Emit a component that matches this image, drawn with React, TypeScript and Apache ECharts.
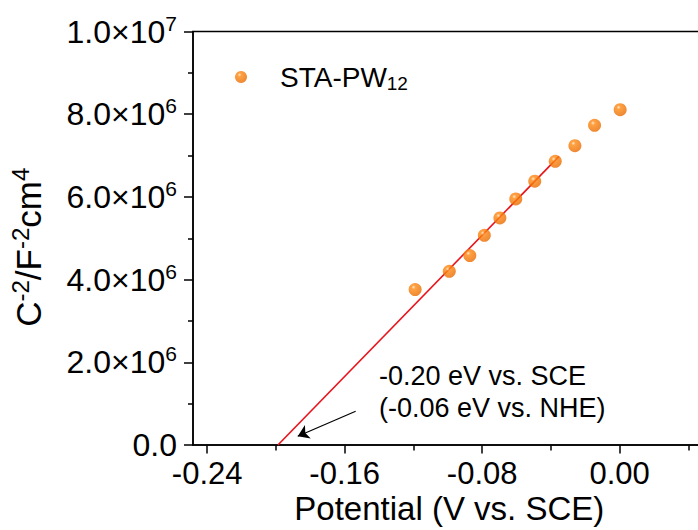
import React, { useEffect, useRef } from "react";
import * as echarts from "echarts";

// Mott–Schottky data
const potentials = [-0.12, -0.1, -0.088, -0.0795, -0.0704, -0.0611, -0.05, -0.038, -0.0265, -0.015, 0.0];
const capacitance = [3.76e6, 4.2e6, 4.58e6, 5.07e6, 5.49e6, 5.95e6, 6.38e6, 6.86e6, 7.24e6, 7.73e6, 8.11e6];
// linear fit endpoints
const fitX = [-0.2003, -0.0358];
const fitY = [0, 6.98e6];
// axis ranges and ticks
const xRange = [-0.25, 0.05];
const xMajorRange = [-0.24, 0.0]; // labelled ticks -0.24 … 0.00
const xMinorRange = [-0.2, 0.04]; // minor ticks -0.20 … 0.04
const xInterval = 0.08;
const yRange = [0, 1e7];
const yInterval = 2e6;
// annotation arrow (data coords) and text
const arrowFrom = [-0.1548, 0.817e6];
const arrowTo = [-0.1887, 0.213e6];
const annotationLines = ["-0.20 eV vs. SCE", "(-0.06 eV vs. NHE)"];
const seriesName = "STA-PW12";

const FONT = '"Liberation Sans", Arial, Helvetica, sans-serif';

// plot frame geometry (px)
const W = 720;
const H = 530;
const LEFT = 190;
const TOP = 31.5;
const BOTTOM = 84.5;
const PLOT_W = 515.6;
const pxPerUnit = PLOT_W / (xRange[1] - xRange[0]);
const xToPx = (v: number) => LEFT + (v - xRange[0]) * pxPerUnit;

function yLabel(v: number): string {
  if (v === 0) return "0.0";
  const e = Math.floor(Math.log10(v) + 1e-9);
  const m = v / Math.pow(10, e);
  return `${m.toFixed(1)}×10{sup|${e}}`;
}

export default function App() {
  const ref = useRef<HTMLDivElement>(null);
  useEffect(() => {
    if (!ref.current) return;
    const chart = echarts.init(ref.current, undefined, { renderer: "svg" });
    const ball = {
      type: "radial",
      x: 0.38,
      y: 0.32,
      r: 0.7,
      colorStops: [
        { offset: 0, color: "#ffe6c4" },
        { offset: 0.22, color: "#ff8a14" },
        { offset: 1, color: "#e86a00" },
      ],
    };
    const tickLine = { color: "#000", width: 1.5 };
    const subGrid = (lo: number, hi: number) => ({
      left: xToPx(lo),
      right: W - xToPx(hi),
      top: TOP,
      bottom: BOTTOM,
      show: false,
    });
    chart.setOption({
      animation: false,
      backgroundColor: "#fff",
      textStyle: { fontFamily: FONT, color: "#000" },
      grid: [
        {
          left: LEFT,
          top: TOP,
          right: W - LEFT - PLOT_W,
          bottom: BOTTOM,
          show: true,
          borderColor: "#000",
          borderWidth: 1.5,
        },
        subGrid(xMajorRange[0], xMajorRange[1]),
        subGrid(xMinorRange[0], xMinorRange[1]),
      ],
      legend: {
        show: true,
        data: [seriesName],
        left: 230,
        top: 58,
        itemWidth: 68,
        itemHeight: 12,
        icon: "circle",
        formatter: () => "{a|STA-PW}{sub|12}",
        textStyle: {
          fontFamily: FONT,
          color: "#000",
          fontSize: 28,
          rich: {
            a: { fontSize: 28, fontFamily: FONT, color: "#000" },
            sub: { fontSize: 19, fontFamily: FONT, color: "#000", padding: [13, 0, 0, 0] },
          },
        },
      },
      xAxis: [
        {
          type: "value",
          gridIndex: 0,
          min: xRange[0],
          max: xRange[1],
          position: "bottom",
          name: "Potential (V vs. SCE)",
          nameLocation: "middle",
          nameGap: 47,
          nameTextStyle: { fontSize: 33, fontFamily: FONT, color: "#000" },
          axisLine: { show: true, onZero: false, lineStyle: tickLine },
          axisTick: { show: false },
          axisLabel: { show: false },
          splitLine: { show: false },
        },
        {
          type: "value",
          gridIndex: 1,
          min: xMajorRange[0],
          max: xMajorRange[1],
          interval: xInterval,
          position: "bottom",
          axisLine: { show: false, onZero: false },
          axisTick: { show: true, inside: false, length: 8, lineStyle: tickLine },
          axisLabel: {
            show: true,
            margin: 12,
            fontSize: 31,
            fontFamily: FONT,
            color: "#000",
            formatter: (v: number) => v.toFixed(2),
          },
          splitLine: { show: false },
        },
        {
          type: "value",
          gridIndex: 2,
          min: xMinorRange[0],
          max: xMinorRange[1],
          interval: xInterval,
          position: "bottom",
          axisLine: { show: false, onZero: false },
          axisTick: { show: true, inside: false, length: 5, lineStyle: tickLine },
          axisLabel: { show: false },
          splitLine: { show: false },
        },
      ],
      yAxis: [
        {
          type: "value",
          gridIndex: 0,
          min: yRange[0],
          max: yRange[1],
          interval: yInterval,
          name: "C{sup|-2}/F{sup|-2}cm{sup|4}",
          nameLocation: "middle",
          nameGap: 144,
          nameTextStyle: {
            fontSize: 35,
            fontFamily: FONT,
            color: "#000",
            padding: [0, 18, 0, 0],
            rich: {
              sup: { fontSize: 24, fontFamily: FONT, color: "#000", padding: [0, 0, 17, 0] },
            },
          },
          axisLine: { show: true, onZero: false, lineStyle: tickLine },
          axisTick: { show: true, inside: false, length: 9, lineStyle: tickLine },
          minorTick: { show: true, splitNumber: 2, length: 5, lineStyle: tickLine },
          axisLabel: {
            margin: 16,
            fontSize: 32,
            fontFamily: FONT,
            color: "#000",
            formatter: (v: number) => yLabel(v),
            rich: {
              sup: { fontSize: 21, fontFamily: FONT, color: "#000", padding: [0, 0, 17, 0] },
            },
          },
          splitLine: { show: false },
        },
        { type: "value", gridIndex: 1, show: false },
        { type: "value", gridIndex: 2, show: false },
      ],
      series: [
        {
          type: "line",
          name: "fit",
          xAxisIndex: 0,
          yAxisIndex: 0,
          data: fitX.map((x, i) => [x, fitY[i]]),
          showSymbol: false,
          symbol: "none",
          lineStyle: { color: "#e8141c", width: 1.6 },
          z: 2,
          markLine: {
            silent: true,
            symbol: ["none", "arrow"],
            symbolSize: 11,
            label: { show: false },
            lineStyle: { color: "#000", width: 1.2, type: "solid" },
            data: [[{ coord: arrowFrom }, { coord: arrowTo }]],
          },
        },
        {
          type: "scatter",
          name: seriesName,
          xAxisIndex: 0,
          yAxisIndex: 0,
          data: potentials.map((x, i) => [x, capacitance[i]]),
          symbol: "circle",
          symbolSize: 13,
          itemStyle: { color: ball as any },
          z: 3,
        },
      ],
      graphic: annotationLines.map((t, i) => ({
        type: "text",
        x: 379,
        y: 376 + i * 32,
        style: {
          text: t,
          fontSize: 27,
          fontFamily: FONT,
          fill: "#000",
          verticalAlign: "middle",
          align: "left",
        },
      })),
    });
    return () => chart.dispose();
  }, []);
  return (
    <div
      style={{
        position: "fixed",
        left: 0,
        top: 0,
        width: 698,
        height: H,
        overflow: "hidden",
        background: "#fff",
      }}
    >
      <div ref={ref} style={{ width: W, height: H }} />
    </div>
  );
}
